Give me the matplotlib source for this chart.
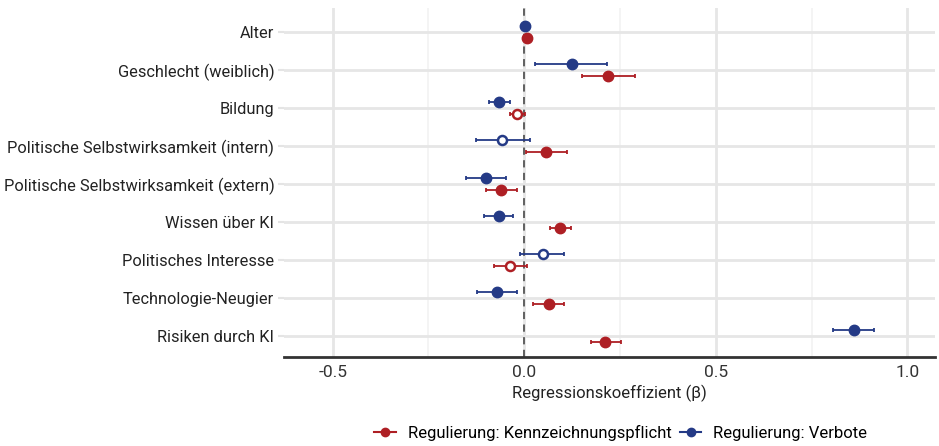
import numpy as np
import matplotlib.pyplot as plt
from matplotlib.lines import Line2D

plt.rcParams['font.family'] = ['Roboto', 'DejaVu Sans']

labels = ['Alter', 'Geschlecht (weiblich)', 'Bildung',
          'Politische Selbstwirksamkeit (intern)',
          'Politische Selbstwirksamkeit (extern)',
          'Wissen über KI', 'Politisches Interesse',
          'Technologie-Neugier', 'Risiken durch KI']

# Regulierung: Kennzeichnungspflicht
kenn_b = [0.007, 0.220, -0.019, 0.057, -0.061, 0.094, -0.038, 0.064, 0.211]
kenn_lo = [0.004, 0.150, -0.038, 0.005, -0.100, 0.066, -0.080, 0.024, 0.174]
kenn_hi = [0.010, 0.290, 0.003, 0.111, -0.019, 0.123, 0.007, 0.105, 0.252]

# Regulierung: Verbote
verb_b = [0.003, 0.124, -0.065, -0.057, -0.099, -0.067, 0.048, -0.071, 0.862]
verb_lo = [0.001, 0.029, -0.093, -0.125, -0.152, -0.104, -0.012, -0.124, 0.806]
verb_hi = [0.005, 0.217, -0.038, 0.014, -0.047, -0.030, 0.105, -0.019, 0.912]

red = '#AE1F24'
blue = '#243A86'

fig = plt.figure(figsize=(9.39, 4.46), dpi=100)
ax = fig.add_axes([0.3025, 0.1996, 0.6935, 0.7824])

y = np.arange(len(labels))


def draw(b, lo, hi, off, col, name):
    b = np.array(b); lo = np.array(lo); hi = np.array(hi)
    yy = y + off
    ax.errorbar(b, yy, xerr=[b - lo, hi - b], fmt='none', ecolor=col,
                elinewidth=1.3, capsize=1.5, capthick=1.3, zorder=3)
    sig = (lo > 0) | (hi < 0)
    ax.plot(b[sig], yy[sig], 'o', color=col, ms=7.5, zorder=4, label=name)
    ax.plot(b[~sig], yy[~sig], 'o', mfc='white', mec=col, mew=1.8, ms=6.5, zorder=4)


draw(kenn_b, kenn_lo, kenn_hi, 0.15, red, 'Regulierung: Kennzeichnungspflicht')
draw(verb_b, verb_lo, verb_hi, -0.15, blue, 'Regulierung: Verbote')

ax.axvline(0, color='#555555', ls=(0, (4, 3)), lw=1.3, zorder=2)

ax.set_xlim(-0.627, 1.073)
ax.set_ylim(len(labels) - 0.45, -0.63)
ax.set_yticks(y)
ax.set_yticklabels(labels, fontsize=11.8, color='#222222')
ax.set_xticks([-0.5, 0.0, 0.5, 1.0])
ax.set_xticklabels(['-0.5', '0.0', '0.5', '1.0'], fontsize=12.5, color='#333333')
ax.set_xticks([-0.25, 0.25, 0.75], minor=True)
ax.tick_params(axis='x', which='both', length=0, pad=6)
ax.tick_params(axis='y', length=4, color='#e4e4e4', width=1.5, pad=3)

ax.grid(True, which='major', color='#e6e6e6', lw=2.0, zorder=0)
ax.grid(True, which='minor', axis='x', color='#f2f2f2', lw=1.2, zorder=0)
ax.set_axisbelow(True)

for s in ['top', 'right', 'left']:
    ax.spines[s].set_visible(False)
ax.spines['bottom'].set_color('#333333')
ax.spines['bottom'].set_linewidth(2)

ax.set_xlabel('Regressionskoeffizient (β)', fontsize=12, color='#222222', labelpad=3)

handles = [Line2D([0], [0], color=red, marker='o', ms=6, lw=1.5),
           Line2D([0], [0], color=blue, marker='o', ms=6, lw=1.5)]
fig.legend(handles, ['Regulierung: Kennzeichnungspflicht', 'Regulierung: Verbote'],
           loc='center', bbox_to_anchor=(0.661, 0.03), ncol=2, frameon=False,
           fontsize=12, handlelength=1.3, handletextpad=0.7, columnspacing=0.5)

fig.savefig('out.png', dpi=100)
